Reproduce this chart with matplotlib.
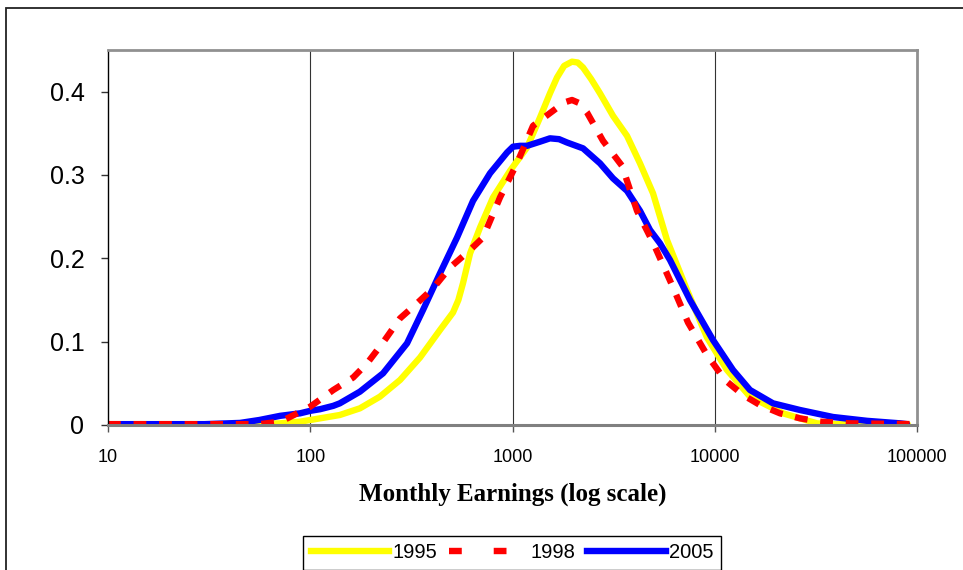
import matplotlib
matplotlib.use("Agg")
import matplotlib.pyplot as plt
from matplotlib.patches import Rectangle
from matplotlib.lines import Line2D

# ---- data ----
earn_1995 = [10, 50, 71, 89, 100, 140, 176, 221, 278, 349, 438, 508, 540, 569, 617, 691, 801, 972,
             1180, 1368, 1532, 1660, 1800, 1969, 2100, 2232, 2450, 2708, 3140, 3683, 4270, 4952,
             5806, 7291, 9155, 11496, 14938, 21756, 26393, 32030, 40000, 90000]
dens_1995 = [0.001, 0.001, 0.002, 0.004, 0.006, 0.012, 0.020, 0.034, 0.054, 0.081, 0.114, 0.135,
             0.150, 0.170, 0.206, 0.237, 0.273, 0.305, 0.333, 0.369, 0.398, 0.417, 0.431, 0.436,
             0.435, 0.429, 0.415, 0.398, 0.371, 0.347, 0.314, 0.278, 0.222, 0.162, 0.105, 0.066,
             0.034, 0.014, 0.008, 0.002, 0.001, 0.001]

earn_1998 = [10, 56, 71, 77, 100, 130, 163, 191, 229, 278, 337, 405, 491, 617, 715, 867, 1052,
             1263, 1586, 1800, 1969, 2150, 2336, 2802, 3479, 4127, 4952, 6145, 7374, 9155, 11235,
             13797, 16736, 21026, 26393, 33145, 46655, 100000]
dens_1998 = [0.001, 0.001, 0.004, 0.008, 0.022, 0.042, 0.057, 0.074, 0.099, 0.128, 0.146, 0.164,
             0.189, 0.210, 0.225, 0.273, 0.314, 0.359, 0.377, 0.387, 0.390, 0.386, 0.375, 0.341,
             0.311, 0.257, 0.219, 0.168, 0.123, 0.084, 0.054, 0.036, 0.024, 0.014, 0.008, 0.004,
             0.002, 0.001]

earn_2005 = [10, 30, 45, 56, 71, 89, 100, 112, 130, 140, 157, 176, 229, 301, 361, 438, 532, 638,
             774, 940, 1006, 1090, 1180, 1368, 1532, 1700, 1860, 2232, 2708, 3140, 3683, 4270, 4786,
             5362, 6008, 7543, 9802, 12312, 14938, 19409, 26393, 38431, 56611, 82410, 89262]
dens_2005 = [0.001, 0.001, 0.0025, 0.006, 0.011, 0.014, 0.017, 0.019, 0.023, 0.026, 0.033, 0.040,
             0.062, 0.098, 0.138, 0.182, 0.225, 0.269, 0.302, 0.327, 0.334, 0.335, 0.335, 0.340,
             0.344, 0.343, 0.339, 0.332, 0.314, 0.296, 0.281, 0.257, 0.234, 0.218, 0.198, 0.150,
             0.102, 0.066, 0.042, 0.026, 0.018, 0.0096, 0.005, 0.002, 0.001]

series_labels = ["1995", "1998", "2005"]
x_ticks = [10, 100, 1000, 10000, 100000]
x_tick_labels = ["10", "100", "1000", "10000", "100000"]
y_ticks = [0, 0.1, 0.2, 0.3, 0.4]
y_tick_labels = ["0", "0.1", "0.2", "0.3", "0.4"]
x_label = "Monthly Earnings (log scale)"

# ---- figure ----
W, H = 963, 570
fig = plt.figure(figsize=(W / 100, H / 100), dpi=100)
fig.patch.set_facecolor("white")

# outer chart border (cut at right/bottom like the reference)
fig.patches.append(Rectangle((6 / W, -0.05), 1.1, 1 - 8 / H + 0.05, transform=fig.transFigure,
                             fill=False, edgecolor="#222222", linewidth=1.3))

left, right, top, bottom = 108 / W, 917 / W, 1 - 50 / H, 1 - 425 / H
ax = fig.add_axes([left, bottom, right - left, top - bottom])
ax.set_xscale("log")
ax.set_xlim(10, 100000)
ax.set_ylim(0, 0.45)

for xv in x_ticks[1:-1]:
    ax.axvline(xv, color="#333333", linewidth=0.8, zorder=1)

lw = 4.6
ax.plot(earn_1995, dens_1995, color="#FFFF00", linewidth=lw, solid_capstyle="round",
        solid_joinstyle="round", zorder=3)
ax.plot(earn_2005, dens_2005, color="#0000FF", linewidth=lw, solid_capstyle="round",
        solid_joinstyle="round", zorder=4)
ax.plot(earn_1998, dens_1998, color="#FF0000", linewidth=lw, linestyle=(0, (2, 2)),
        dash_capstyle="butt", zorder=5)

ax.set_xticks(x_ticks)
ax.set_xticklabels(x_tick_labels, fontfamily="Liberation Sans", fontsize=13)
ax.xaxis.set_minor_locator(matplotlib.ticker.NullLocator())
ax.set_yticks(y_ticks)
ax.set_yticklabels(y_tick_labels, fontfamily="Liberation Sans", fontsize=18)
ax.tick_params(axis="x", direction="out", length=5, width=1, color="#555555", pad=12)
ax.tick_params(axis="y", direction="out", length=5, width=1, color="#333333", pad=12)

ax.spines["left"].set_color("black")
ax.spines["left"].set_linewidth(1.0)
ax.spines["bottom"].set_color("#808080")
ax.spines["bottom"].set_linewidth(2.2)
ax.spines["top"].set_color("#909090")
ax.spines["top"].set_linewidth(2.0)
ax.spines["right"].set_color("#909090")
ax.spines["right"].set_linewidth(2.0)
for s in ax.spines.values():
    s.set_zorder(6)

ax.set_xlabel(x_label, fontfamily="Liberation Serif", fontweight="bold", fontsize=18, labelpad=12)

handles = [
    Line2D([], [], color="#FFFF00", linewidth=lw),
    Line2D([], [], color="#FF0000", linewidth=lw, linestyle=(0, (2, 5))),
    Line2D([], [], color="#0000FF", linewidth=lw),
]
leg = fig.legend(handles, series_labels, loc="center", bbox_to_anchor=(512 / W, 1 - 553 / H),
                 ncol=3, frameon=True, fancybox=False, edgecolor="black", framealpha=1,
                 prop={"family": "Liberation Sans", "size": 14.5}, handlelength=3.9,
                 handletextpad=0.15, columnspacing=0.6, borderpad=0.35, borderaxespad=0)
leg.get_frame().set_linewidth(1.0)

fig.savefig("out.png", dpi=100, facecolor="white")
